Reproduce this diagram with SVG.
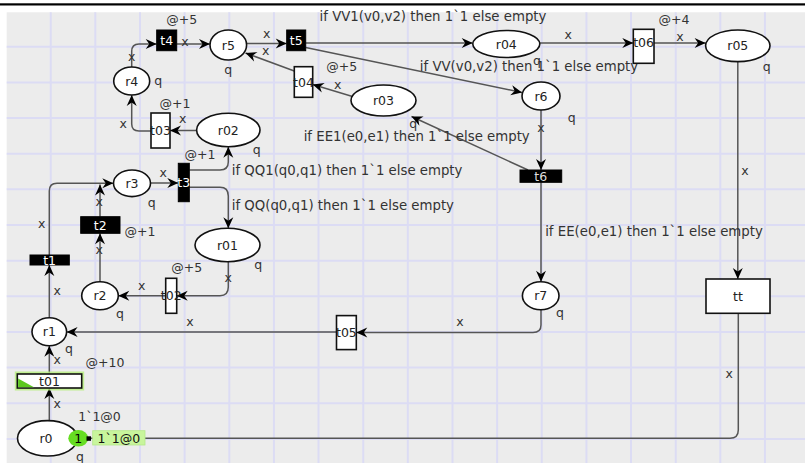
<svg xmlns="http://www.w3.org/2000/svg" width="805" height="463" viewBox="0 0 805 463">
  <defs>
    <marker id="ah" markerUnits="userSpaceOnUse" markerWidth="12" markerHeight="10" refX="11" refY="5" orient="auto" overflow="visible">
      <path d="M0,0 L11,5 L0,10 L3.5,5 z" fill="#000"/>
    </marker>
  </defs>
  <style>
    .arc{fill:none;stroke:#555;stroke-width:1.5;marker-end:url(#ah)}
    .line{fill:none;stroke:#555;stroke-width:1.5}
    .pl{fill:#fff;stroke:#111;stroke-width:1.6}
    .tw{fill:#fff;stroke:#111;stroke-width:1.6}
    .tb{fill:#000;stroke:#000;stroke-width:1}
    .grid{fill:none;stroke:#dcdcf4;stroke-width:2}
    text{font-family:"DejaVu Sans",Verdana,sans-serif;font-size:12.5px;fill:#333}
    .g{font-size:13.3px}
    .c{text-anchor:middle}
    .n{fill:#222}
    .w{fill:#fff}
  </style>

  <!-- page -->
  <rect x="0" y="0" width="805" height="463" fill="#fff"/>
  <rect x="0" y="3.3" width="805" height="2.2" fill="#000"/>
  <rect x="6.7" y="12.3" width="798.3" height="450.7" fill="#ececec"/>
  <path class="grid" d="M50.7,12.3V463 M95.3,12.3V463 M140,12.3V463 M184.6,12.3V463 M229.3,12.3V463 M273.9,12.3V463 M318.5,12.3V463 M363.2,12.3V463 M407.8,12.3V463 M452.5,12.3V463 M497.1,12.3V463 M541.7,12.3V463 M586.4,12.3V463 M631,12.3V463 M675.7,12.3V463 M720.3,12.3V463 M764.9,12.3V463
    M6.7,46.7H805 M6.7,82.4H805 M6.7,118H805 M6.7,153.7H805 M6.7,189.3H805 M6.7,225H805 M6.7,260.7H805 M6.7,296.3H805 M6.7,332H805 M6.7,367.6H805 M6.7,403.3H805 M6.7,439H805"/>

  <!-- connectors -->
  <g id="arcs">
    <path class="arc" d="M49.3,420.7 V388"/>
    <path class="arc" d="M49.3,374 V345.7"/>
    <path class="arc" d="M49.3,317.7 V265"/>
    <path class="arc" d="M49.3,255 V191 Q49.3,183.3 57,183.3 H113.3"/>
    <path class="arc" d="M100,281.7 V233.3"/>
    <path class="arc" d="M100,216.7 V184.5"/>
    <path class="arc" d="M150,183 H178.3"/>
    <path class="arc" d="M189.3,170 H220 Q228.3,170 228.3,162 V146.7"/>
    <path class="arc" d="M189.3,187.3 H220 Q228.3,187.3 228.3,196 V228.3"/>
    <path class="arc" d="M228.3,261.7 V287 Q228.3,295.7 220,295.7 H176.7"/>
    <path class="arc" d="M165.7,295.7 H118.3"/>
    <path class="arc" d="M196.6,130.5 H170"/>
    <path class="arc" d="M151,131 H139 Q131.7,131 131.7,124 V95"/>
    <path class="arc" d="M131.7,67 V51.5 Q131.7,44 139,44 H156.7"/>
    <path class="arc" d="M176.7,44 H210"/>
    <path class="arc" d="M246.6,43.5 H286.7"/>
    <path class="arc" d="M305.7,43 H472.7"/>
    <path class="arc" d="M305.7,47.5 L522,92.5"/>
    <path class="arc" d="M539.7,43 H633.3"/>
    <path class="arc" d="M654,43 H705.6"/>
    <path class="arc" d="M737.8,61.7 V279"/>
    <path class="line" d="M738.3,313.3 V430 Q738.3,438.3 730,438.3 H89"/>
    <path class="arc" d="M541,110 V170"/>
    <path class="arc" d="M528,170 L411.5,116.5"/>
    <path class="arc" d="M541,182.3 V281.7"/>
    <path class="arc" d="M541,309.7 V325 Q541,332.5 533,332.5 H356.3"/>
    <path class="arc" d="M336.5,332 H66.6"/>
    <path class="arc" d="M352.5,96.5 L312.7,84.5"/>
    <path class="arc" d="M294.3,71 L245.5,53"/>
  </g>

  <!-- arc inscriptions -->
  <g id="inscriptions">
    <text class="c" x="131.7" y="60.5">x</text>
    <text class="c" x="185" y="46">x</text>
    <text class="c" x="266.7" y="38">x</text>
    <text class="c" x="265.7" y="54.5">x</text>
    <text class="c" x="123.3" y="128">x</text>
    <text class="c" x="182.7" y="123">x</text>
    <text class="c" x="337.7" y="89">x</text>
    <text class="c g" x="433" y="21">if VV1(v0,v2) then 1`1 else empty</text>
    <text class="c g" x="529" y="71">if VV(v0,v2) then 1`1 else empty</text>
    <text class="c g" x="416.7" y="141">if EE1(e0,e1) then 1`1 else empty</text>
    <text class="c" x="568.3" y="39">x</text>
    <text class="c" x="680" y="40.5">x</text>
    <text class="c" x="541" y="132">x</text>
    <text class="c" x="745" y="174.5">x</text>
    <text class="c g" x="654" y="236">if EE(e0,e1) then 1`1 else empty</text>
    <text class="c" x="460" y="326">x</text>
    <text class="c" x="190" y="325.5">x</text>
    <text class="c" x="729.2" y="378">x</text>
    <text class="c" x="57.3" y="364">x</text>
    <text class="c" x="57.3" y="408">x</text>
    <text class="c" x="99.5" y="421">1`1@0</text>
    <text class="c" x="41.7" y="228">x</text>
    <text class="c" x="99.3" y="205.5">x</text>
    <text class="c" x="163.3" y="177">x</text>
    <text class="c" x="99.3" y="254">x</text>
    <text class="c" x="57.3" y="295">x</text>
    <text class="c" x="141.7" y="290">x</text>
    <text class="c" x="228.3" y="282">x</text>
    <text class="g" x="231.7" y="174.5">if QQ1(q0,q1) then 1`1 else empty</text>
    <text class="g" x="231.7" y="209.5">if QQ(q0,q1) then 1`1 else empty</text>
  </g>

  <!-- places -->
  <g id="r5"><ellipse class="pl" cx="228.3" cy="45" rx="18.3" ry="15"/><text class="c n" x="228.3" y="49.5">r5</text><text class="c" x="228.3" y="74">q</text></g>
  <g id="r4"><ellipse class="pl" cx="131.7" cy="81" rx="18" ry="14"/><text class="c n" x="131.7" y="85.5">r4</text><text class="c" x="158.3" y="85">q</text></g>
  <g id="r02"><ellipse class="pl" cx="228.3" cy="130" rx="31.7" ry="16.7"/><text class="c n" x="228.3" y="134.5">r02</text><text class="c" x="256.7" y="154">q</text></g>
  <g id="r04"><ellipse class="pl" cx="506.3" cy="44" rx="33.5" ry="13.5"/><text class="c n" x="506.3" y="48.5">r04</text><text class="c" x="537" y="65">q</text></g>
  <g id="r03"><ellipse class="pl" cx="383.5" cy="100.5" rx="32.5" ry="15.5"/><text class="c n" x="383.5" y="105">r03</text><text class="c" x="413.3" y="128">q</text></g>
  <g id="r6"><ellipse class="pl" cx="541" cy="96" rx="19" ry="14"/><text class="c n" x="541" y="100.5">r6</text><text class="c" x="571.7" y="122">q</text></g>
  <g id="r05"><ellipse class="pl" cx="737.8" cy="45.8" rx="32.2" ry="15.8"/><text class="c n" x="737.8" y="50.3">r05</text><text class="c" x="766.7" y="70.5">q</text></g>
  <g id="r3"><ellipse class="pl" cx="132" cy="183.3" rx="18.5" ry="13.3"/><text class="c n" x="132" y="187.8">r3</text><text class="c" x="151.7" y="207">q</text></g>
  <g id="r01"><ellipse class="pl" cx="227.5" cy="245" rx="32.5" ry="16.7"/><text class="c n" x="227.5" y="249.5">r01</text><text class="c" x="258.3" y="269">q</text></g>
  <g id="r2"><ellipse class="pl" cx="100" cy="295.7" rx="18.3" ry="14"/><text class="c n" x="100" y="300.2">r2</text><text class="c" x="120" y="318">q</text></g>
  <g id="r7"><ellipse class="pl" cx="540.7" cy="295.7" rx="18.3" ry="14"/><text class="c n" x="540.7" y="300.2">r7</text><text class="c" x="560" y="317">q</text></g>
  <g id="r1"><ellipse class="pl" cx="49.3" cy="331.7" rx="17.3" ry="14"/><text class="c n" x="49.3" y="336.2">r1</text><text class="c" x="69" y="353">q</text></g>
  <g id="r0">
    <ellipse class="pl" cx="47.5" cy="438.3" rx="30" ry="17.7"/><text class="c n" x="46" y="442.8">r0</text><text class="c" x="80" y="460.5">q</text>
    <ellipse cx="78.3" cy="438.3" rx="10" ry="8.3" fill="#66dd22"/><text class="c" x="78.3" y="442.8" style="fill:#000">1</text>
    <rect x="86.5" y="436.3" width="4.5" height="4.5" fill="#000"/>
    <rect x="92.7" y="430.7" width="52.3" height="14.3" fill="#c8f59c" stroke="#b5e88a" stroke-width="0.8"/>
    <text class="c" x="118.8" y="442.5" style="fill:#111">1`1@0</text>
  </g>

  <!-- transitions -->
  <g id="t4"><rect class="tb" x="156.7" y="30" width="20" height="20.7"/><text class="c w" x="166.7" y="44.5">t4</text><text class="c" x="181.7" y="23.5">@+5</text></g>
  <g id="t5"><rect class="tb" x="286.7" y="30" width="19" height="20.7"/><text class="c w" x="296.2" y="44.5">t5</text></g>
  <g id="t03"><rect class="tw" x="151" y="113" width="19" height="35"/><text class="c n" x="160.5" y="135">t03</text><text class="c" x="175" y="107.5">@+1</text></g>
  <g id="t04"><rect class="tw" x="294.3" y="66.7" width="18.4" height="30.6"/><text class="c n" x="303.5" y="86.5">t04</text><text class="c" x="341.7" y="71">@+5</text></g>
  <g id="t06"><rect class="tw" x="633.3" y="29.3" width="20.7" height="34"/><text class="c n" x="643.6" y="47">t06</text><text class="c" x="674" y="24">@+4</text></g>
  <g id="t3"><rect class="tb" x="178.3" y="163.3" width="11" height="38.4"/><text class="c w" x="183.8" y="187">t3</text><text class="c" x="200" y="159">@+1</text></g>
  <g id="t2"><rect class="tb" x="80.7" y="216.7" width="39.3" height="16.6"/><text class="c w" x="100.3" y="229.5">t2</text><text class="c" x="140" y="236">@+1</text></g>
  <g id="t1"><rect class="tb" x="30" y="255" width="39.3" height="10"/><text class="c w" x="49.6" y="264.5">t1</text></g>
  <g id="t02"><rect class="tw" x="165.7" y="278.3" width="11" height="35"/><text class="c n" x="171.2" y="300">t02</text><text class="c" x="186.7" y="272">@+5</text></g>
  <g id="t6"><rect class="tb" x="520" y="170" width="41.7" height="12.3"/><text class="c" x="540.8" y="180.5" style="fill:#ddd">t6</text></g>
  <g id="tt"><rect class="tw" x="706" y="279" width="64" height="34.3"/><text class="c n" x="738" y="300.5">tt</text></g>
  <g id="t05"><rect class="tw" x="336.5" y="315.6" width="19.8" height="34"/><text class="c n" x="346.4" y="336.5">t05</text></g>
  <g id="t01">
    <rect x="17.3" y="374" width="64.4" height="14" fill="none" stroke="#b6f07c" stroke-width="5" opacity="0.8"/>
    <rect class="tw" x="17.3" y="374" width="64.4" height="14"/>
    <path d="M18.1,387.2 V378.5 L34,387.2 z" fill="#5cc81e"/>
    <text class="c n" x="49.5" y="385.5">t01</text>
    <text class="c" x="105" y="367">@+10</text>
  </g>
</svg>
